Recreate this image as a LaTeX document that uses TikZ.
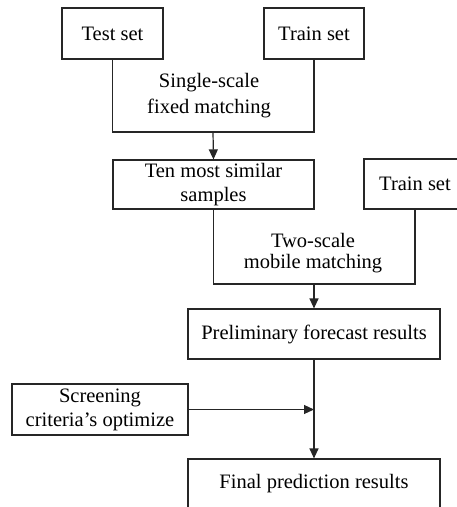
\documentclass[tikz,border=0pt]{standalone}
\usepackage{fontspec}
\setmainfont{Liberation Serif}
\usetikzlibrary{arrows.meta}
\begin{document}
\begin{tikzpicture}[x=1pt,y=-1pt,
  every node/.style={font=\fontsize{20.5}{24}\selectfont, inner sep=0pt},
  box/.style={draw=black!85, line width=1.2pt, minimum height=50pt, align=center},
  lbl/.style={align=center},
  link/.style={draw=black!85, line width=1.2pt},
  arr/.style={link, -{Triangle[width=9pt,length=10pt]}}]
\useasboundingbox (0,0) rectangle (457,507);
\clip (0,0) rectangle (457,507);

% first stage: fixed matching
\node[box, minimum width=101pt, minimum height=51pt] (test) at (112.5,33.5) {Test set};
\node[box, minimum width=100pt, minimum height=51pt] (train1) at (314,33.5) {Train set};
\node[lbl, font=\fontsize{20.5}{26}\selectfont] (lab1) at (209,96) {Single-scale\\fixed matching};
\coordinate (m1) at (213,132);
\draw[link] (test.south) |- (m1) -| (train1.south);
\node[box, minimum width=201pt, minimum height=49pt] (ten) at (213.5,184.5) {Ten most similar\\samples};
\draw[arr] (m1) -- (ten.north);

% second stage: mobile matching
\node[box, minimum width=102pt] (train2) at (415,184) {Train set};
\node[lbl, font=\fontsize{20.5}{21.5}\selectfont] (lab2) at (313,253) {Two-scale\\mobile matching};
\coordinate (m2) at (314,284);
\draw[link] (ten.south) |- (m2) -| (train2.south);
\node[box, minimum width=252pt] (pre) at (314,334) {Preliminary forecast results};
\draw[arr] (m2) -- (pre.north);

% screening and final result
\node[box, minimum width=176pt, minimum height=51pt] (scr) at (100,409.5) {Screening\\criteria's optimize};
\coordinate (j) at (314,409.5);
\draw[arr] (scr.east) -- (j);
\node[box, minimum width=252pt] (fin) at (314,484) {Final prediction results};
\draw[arr] (pre.south) -- (fin.north);
\end{tikzpicture}
\end{document}
